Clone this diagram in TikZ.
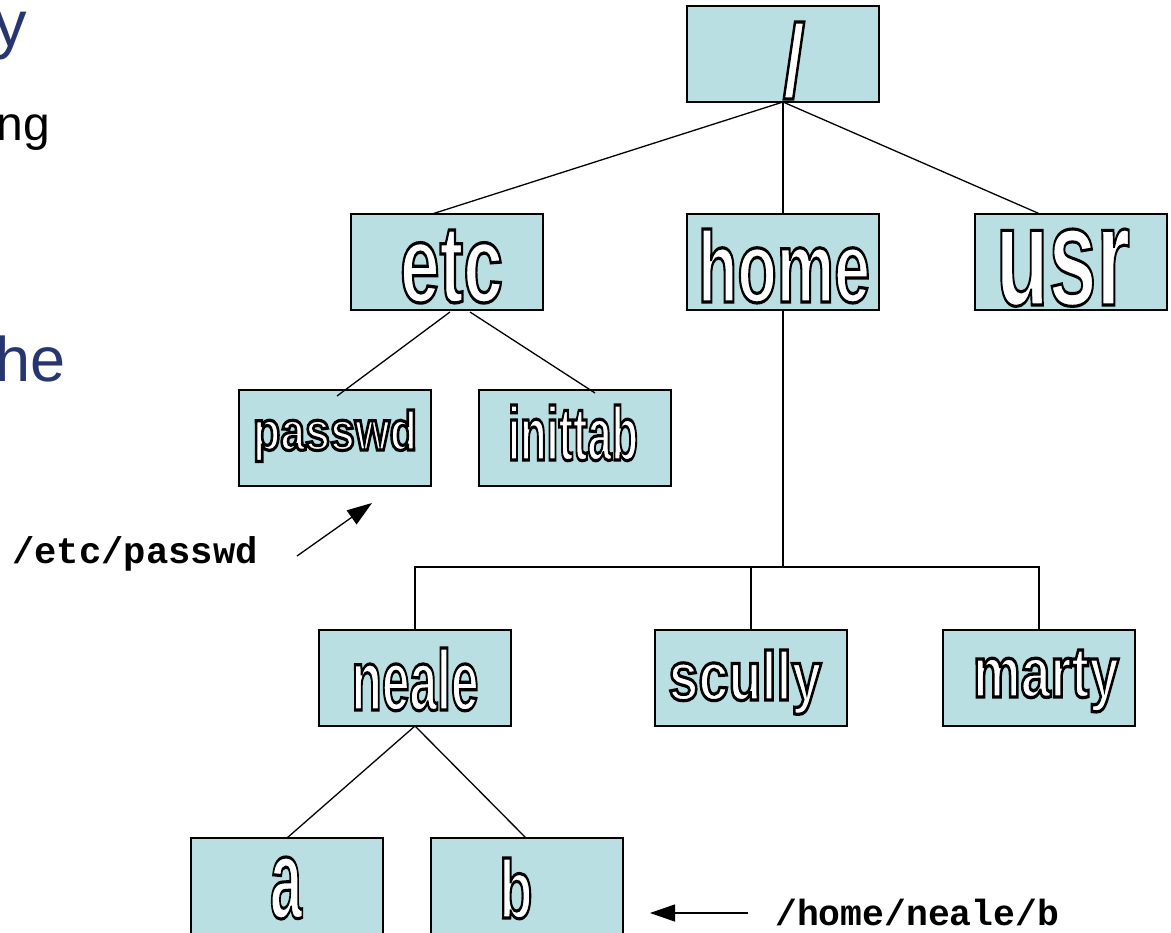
\documentclass[tikz,border=0pt]{standalone}
\usepackage{fontspec}
\usepackage{graphicx}
\setmainfont{Liberation Sans}
\newfontfamily\labelfont{Liberation Sans}[BoldFont={Liberation Sans Bold}]
\newfontfamily\pathfont{Liberation Mono}
\usetikzlibrary{arrows.meta}
\definecolor{boxfill}{RGB}{185,223,226}
\definecolor{titleblue}{RGB}{40,54,112}
\newcommand\outl[4]{\resizebox{#1pt}{#2pt}{\fontsize{#3}{#3}\selectfont\labelfont\bfseries\color{white}\special{pdf:literal direct 0 G 2 Tr 3.2 w}#4\special{pdf:literal direct 0 Tr}}}
\tikzset{
  dirbox/.style={draw=black, line width=1.5pt, fill=boxfill, minimum width=192pt, minimum height=96pt, inner sep=0pt, outer sep=0pt},
  lbl/.style={anchor=base, inner sep=0pt, outer sep=0pt},
  conn/.style={line width=1.3pt, draw=black},
  pointer/.style={line width=1.3pt, -{Triangle[length=25pt,width=17pt]}},
  pathlbl/.style={anchor=base west, inner sep=0pt, font=\pathfont\bfseries\fontsize{37.2}{40}\selectfont},
  frag/.style={anchor=base east, inner sep=0pt}
}
\begin{document}
\begin{tikzpicture}[x=1pt,y=-1pt]
\useasboundingbox (0,0) rectangle (1171,933);
\clip (0,0) rectangle (1171,933);
% left slide fragments
\node[frag, text=titleblue, font=\fontsize{65}{70}\selectfont] (fy) at (27,47) {y};
\node[frag, text=black, font=\fontsize{48}{52}\selectfont] (fng) at (50,141) {ng};
\node[frag, text=titleblue, font=\fontsize{63}{70}\selectfont] (fhe) at (66,382) {he};
% boxes
\node[dirbox] (root) at (783,54) {};
\node[dirbox] (etc) at (447,262) {};
\node[dirbox] (home) at (783,262) {};
\node[dirbox] (usr) at (1071,262) {};
\node[dirbox] (passwd) at (335,438) {};
\node[dirbox] (inittab) at (575,438) {};
\node[dirbox] (neale) at (415,678) {};
\node[dirbox] (scully) at (751,678) {};
\node[dirbox] (marty) at (1039,678) {};
\node[dirbox] (a) at (287,886) {};
\node[dirbox] (b) at (527,886) {};
% labels
\node[lbl] (root-l) at (794,97) {\outl{22}{75}{104}{/}};
\node[lbl] (etc-l) at (451.5,302) {\outl{103}{72}{107}{etc}};
\node[lbl] (home-l) at (784,302) {\outl{172}{73}{100}{home}};
\node[lbl] (usr-l) at (1063,305) {\outl{134}{76}{146}{usr}};
\node[lbl] (passwd-l) at (335,450) {\outl{164}{40}{55}{passwd}};
\node[lbl] (inittab-l) at (573,460) {\outl{130}{55}{75}{inittab}};
\node[lbl] (neale-l) at (415,710) {\outl{127}{62}{85}{neale}};
\node[lbl] (scully-l) at (745,700) {\outl{153}{50}{69}{scully}};
\node[lbl] (marty-l) at (1046,697) {\outl{146}{47}{70}{marty}};
\node[lbl] (a-l) at (286,918) {\outl{32}{61}{115}{a}};
\node[lbl] (b-l) at (516,918) {\outl{33}{60}{83}{b}};
% connectors
\draw[conn] (root.south) -- ([xshift=-15pt]etc.north);
\draw[conn] (root.south) -- (home.north);
\draw[conn] (root.south) -- ([xshift=-31pt]usr.north);
\draw[conn] ([xshift=3pt,yshift=-2pt]etc.south) -- ([xshift=2pt,yshift=-6pt]passwd.north);
\draw[conn] ([xshift=23pt,yshift=-2pt]etc.south) -- ([xshift=20pt,yshift=-3pt]inittab.north);
\coordinate (hbar) at (783,567);
\draw[conn] (home.south) -- (hbar);
\draw[conn] (neale.north) |- (hbar);
\draw[conn] (marty.north) |- (hbar);
\draw[conn] (scully.north) -- (scully.north |- hbar);
\draw[conn] (neale.south) -- (a.north);
\draw[conn] (neale.south) -- ([xshift=-1pt]b.north);
% path pointers
\node[pathlbl] (p1) at (12,563) {/etc/passwd};
\node[pathlbl, font=\pathfont\bfseries\fontsize{36.4}{40}\selectfont] (p2) at (775,925) {/home/neale/b};
\coordinate (p1s) at (297,556);
\coordinate (p1e) at (372,503);
\draw[pointer] (p1s) -- (p1e);
\coordinate (p2s) at (748,913);
\coordinate (p2e) at (650,913);
\draw[pointer] (p2s) -- (p2e);
\end{tikzpicture}
\end{document}
